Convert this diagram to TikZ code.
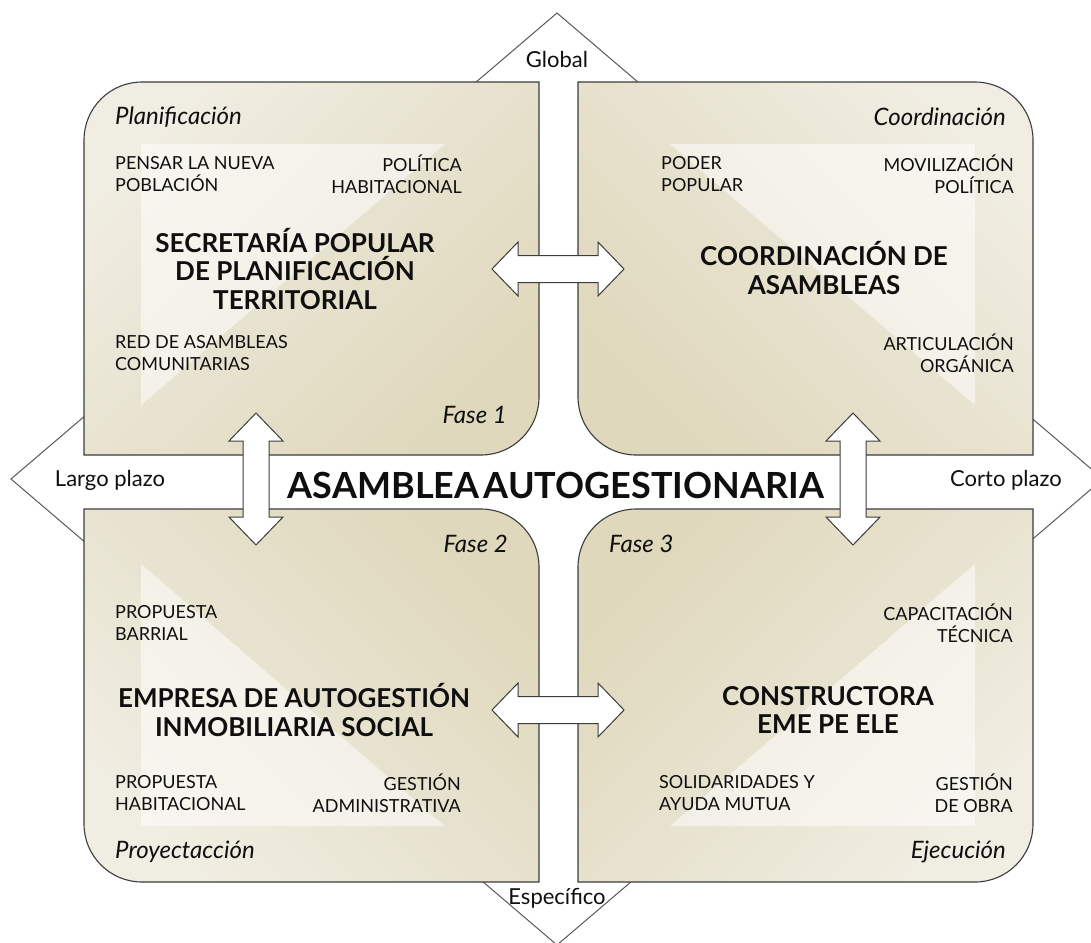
\documentclass[tikz,border=0pt]{standalone}
\usepackage{fontspec}
\setmainfont{Lato}
\definecolor{boxlight}{RGB}{240,237,226}
\definecolor{boxdark}{RGB}{223,216,188}
\definecolor{edge}{RGB}{60,60,60}
\definecolor{txt}{RGB}{15,15,15}
\begin{document}
\begin{tikzpicture}[x=1pt,y=-1pt,
  boxsty/.style={draw=edge, line width=1.1pt, top color=boxlight, bottom color=boxdark},
  tri/.style={fill=white, fill opacity=0.5},
  arrowsty/.style={draw=edge, line width=1pt, fill=white, line join=miter},
  lbl/.style={font=\fontsize{18}{22.5}\selectfont, text=txt, inner sep=0pt},
  ttl/.style={font=\fontsize{26}{28.5}\selectfont\bfseries, text=txt, inner sep=0pt, align=center},
  phase/.style={font=\fontsize{24}{28}\selectfont\itshape, text=txt, inner sep=0pt},
  dirlbl/.style={font=\fontsize{22}{26}\selectfont, text=txt, inner sep=0pt},
  harr/.pic={\draw[arrowsty] (-66,0) -- (-40,-27) -- (-40,-13.5) -- (40,-13.5) -- (40,-27) -- (66,0) -- (40,27) -- (40,13.5) -- (-40,13.5) -- (-40,27) -- cycle;},
  varr/.pic={\draw[arrowsty] (0,-66) -- (-27,-38) -- (-13,-38) -- (-13,38) -- (-27,38) -- (0,66) -- (27,38) -- (13,38) -- (13,-38) -- (27,-38) -- cycle;}
]
\useasboundingbox (0,0) rectangle (1091,942);
\begin{scope}
\clip (0,0) rectangle (1091,942);
\draw[draw=edge!85, line width=1pt, fill=white] (557,13) -- (1103,479) -- (557,945) -- (11,479) -- cycle;
\end{scope}

% boxes
\shade[boxsty, shading angle=45] (84,455) -- (84,140) arc[start angle=180,end angle=270,radius=58] -- (539,82) -- (539,397) arc[start angle=0,end angle=90,radius=58] -- cycle;
\shade[boxsty, shading angle=-45] (578,82) -- (975,82) arc[start angle=270,end angle=360,radius=58] -- (1033,455) -- (636,455) arc[start angle=90,end angle=180,radius=58] -- cycle;
\shade[boxsty, shading angle=135] (84,509) -- (481,509) arc[start angle=270,end angle=360,radius=58] -- (539,882) -- (142,882) arc[start angle=90,end angle=180,radius=58] -- cycle;
\shade[boxsty, shading angle=225] (578,882) -- (578,567) arc[start angle=180,end angle=270,radius=58] -- (1033,509) -- (1033,824) arc[start angle=0,end angle=90,radius=58] -- cycle;

% light triangles
\fill[tri] (141,144) -- (445,144) -- (141,405) -- cycle;
\fill[tri] (670,144) -- (975,144) -- (975,405) -- cycle;
\fill[tri] (141,564) -- (141,826) -- (445,826) -- cycle;
\fill[tri] (975,564) -- (975,826) -- (670,826) -- cycle;

% arrows
\pic at (558,269) {harr};
\pic at (558,710) {harr};
\pic at (256,479) {varr};
\pic at (853,479) {varr};

% direction labels
\node[dirlbl] (global) at (557,59) {Global};
\node[dirlbl] (especifico) at (557,898) {Específico};
\node[dirlbl] (largo) at (110,480) {Largo plazo};
\node[dirlbl] (corto) at (1006,480) {Corto plazo};
\node[font=\fontsize{36}{40}\selectfont\bfseries, text=txt, inner sep=0pt] (asamblea) at (556,485) {ASAMBLEA\hspace{0.12em}AUTOGESTIONARIA};

% TL
\node[phase, anchor=west] (plan) at (115,117) {Planificación};
\node[lbl, anchor=west, align=left] (pensar) at (115,174) {PENSAR LA NUEVA\\POBLACIÓN};
\node[lbl, anchor=east, align=right] (politica) at (462,174) {POLÍTICA\\HABITACIONAL};
\node[ttl] (secretaria) at (295,269) {SECRETARÍA POPULAR\\DE PLANIFICACIÓN\\TERRITORIAL};
\node[lbl, anchor=west, align=left] (red) at (115,353) {RED DE ASAMBLEAS\\COMUNITARIAS};
\node[phase, anchor=east] (fase1) at (507,415) {Fase 1};

% TR
\node[phase, anchor=east] (coord) at (1006,117) {Coordinación};
\node[lbl, anchor=west, align=left] (poder) at (661,174) {PODER\\POPULAR};
\node[lbl, anchor=east, align=right] (movil) at (1014,174) {MOVILIZACIÓN\\POLÍTICA};
\node[ttl] (coordasam) at (824,268) {COORDINACIÓN DE\\ASAMBLEAS};
\node[lbl, anchor=east, align=right] (artic) at (1014,353) {ARTICULACIÓN\\ORGÁNICA};

% BL
\node[phase, anchor=east] (fase2) at (508,544) {Fase 2};
\node[lbl, anchor=west, align=left] (barrial) at (115,623) {PROPUESTA\\BARRIAL};
\node[ttl] (empresa) at (294,710) {EMPRESA DE AUTOGESTIÓN\\INMOBILIARIA SOCIAL};
\node[lbl, anchor=west, align=left] (habit) at (115,793) {PROPUESTA\\HABITACIONAL};
\node[lbl, anchor=east, align=right] (gestadm) at (461,793) {GESTIÓN\\ADMINISTRATIVA};
\node[phase, anchor=west] (proy) at (115,852) {Proyectacción};

% BR
\node[phase, anchor=west] (fase3) at (609,544) {Fase 3};
\node[lbl, anchor=east, align=right] (capac) at (1013,623) {CAPACITACIÓN\\TÉCNICA};
\node[ttl] (constr) at (828,710) {CONSTRUCTORA\\EME PE ELE};
\node[lbl, anchor=west, align=left] (solid) at (659,793) {SOLIDARIDADES Y\\AYUDA MUTUA};
\node[lbl, anchor=east, align=right] (gestobra) at (1013,793) {GESTIÓN\\DE OBRA};
\node[phase, anchor=east] (ejec) at (1006,852) {Ejecución};
\end{tikzpicture}
\end{document}
